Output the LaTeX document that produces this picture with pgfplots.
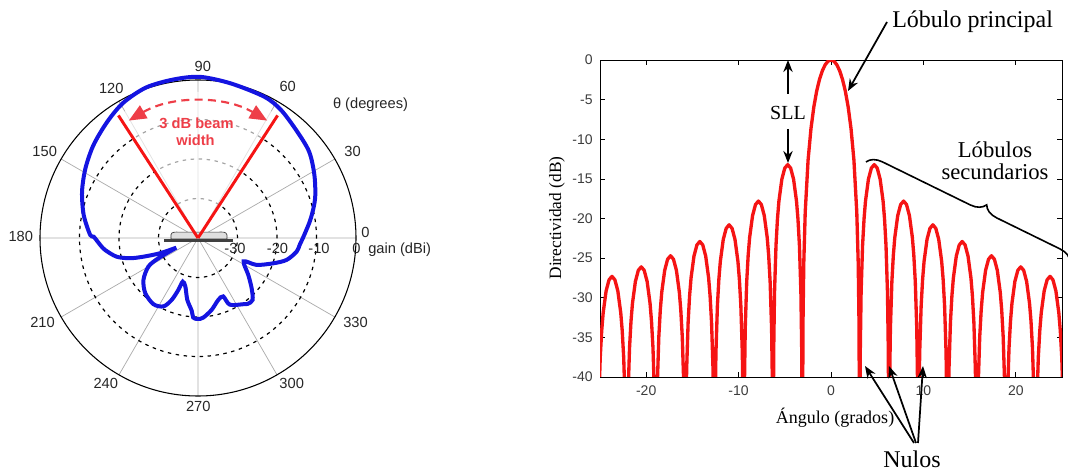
\documentclass[border=0pt]{standalone}
\usepackage{pgfplots}
\pgfplotsset{compat=1.18}
\usepackage{pgfplotstable}
\usepgfplotslibrary{polar}
\usetikzlibrary{arrows.meta,decorations.pathreplacing}
\usepackage{fontspec}
\setmainfont{Liberation Sans}
\newfontfamily\seriffont{Liberation Serif}
\definecolor{pblue}{RGB}{20,20,225}
\definecolor{pred}{RGB}{245,20,20}
\definecolor{bred}{RGB}{238,62,72}
\definecolor{tgray}{RGB}{60,60,60}

\pgfplotstableread{
a g
204 -34
201.9 -29.7
198.9 -25.4
196.6 -22.1
193.0 -18.9
187.4 -16.3
184.1 -15.2
179.3 -13.6
178.4 -12.7
168.7 -10.5
158.3 -8.4
148.3 -6.5
138.4 -4.6
128.1 -2.7
119.0 -0.9
109.1 0.3
98.9 0.6
89.3 0.8
77.9 0.0
64.7 -0.5
56.9 -1.4
46.8 -3.2
37.7 -4.4
28.4 -6.5
18.7 -8.7
9.9 -11.0
1.6 -13.1
-3.9 -14.2
-7.9 -14.8
-13.9 -16.9
-18.6 -19.9
-24.7 -23.7
-27.1 -27.0
-36.3 -24.2
-43.1 -21.4
-48.6 -19.1
-52.9 -19.1
-55.7 -19.7
-64.5 -21.3
-66.7 -23.9
-71.9 -23.5
-79.2 -21.5
-86.2 -19.8
-90 -19.5
-93.4 -19.8
-94.9 -21.5
-99.8 -24.1
-104.6 -27.3
-109.3 -28.3
-110.7 -26.0
-113.0 -23.0
-116.8 -20.6
-124.0 -19.8
-133.8 -20.7
-142.5 -22.6
-150.0 -25.5
-152.9 -28.7
-156 -34
}\polardata

\pgfplotstableread{
x y
0 0
0.31 -0.14
0.62 -0.58
0.93 -1.33
1.24 -2.42
1.55 -3.92
1.86 -5.94
2.17 -8.69
2.48 -12.62
2.79 -19.2
2.945 -25.6
3.038 -33.8
3.1 -60
3.163 -37.2
3.259 -29.3
3.417 -23.4
3.576 -20.06
3.734 -17.8
4.051 -15.04
4.368 -13.64
4.685 -13.2
5.002 -13.64
5.319 -15.04
5.636 -17.8
5.795 -20.06
5.953 -23.4
6.112 -29.3
6.207 -37.2
6.27 -60
6.333 -41.8
6.429 -33.9
6.587 -28.0
6.746 -24.66
6.904 -22.4
7.221 -19.64
7.538 -18.24
7.855 -17.8
8.172 -18.24
8.489 -19.64
8.806 -22.4
8.965 -24.66
9.123 -28.0
9.282 -33.9
9.377 -41.8
9.44 -60
9.503 -44.8
9.599 -36.9
9.757 -31.0
9.916 -27.66
10.074 -25.4
10.391 -22.64
10.708 -21.24
11.025 -20.8
11.342 -21.24
11.659 -22.64
11.976 -25.4
12.135 -27.66
12.293 -31.0
12.452 -36.9
12.547 -44.8
12.61 -60
12.673 -46.9
12.769 -39.0
12.927 -33.1
13.086 -29.76
13.244 -27.5
13.561 -24.74
13.878 -23.34
14.195 -22.9
14.512 -23.34
14.829 -24.74
15.146 -27.5
15.305 -29.76
15.463 -33.1
15.622 -39.0
15.717 -46.9
15.78 -60
15.843 -48.7
15.939 -40.8
16.097 -34.9
16.256 -31.56
16.414 -29.3
16.731 -26.54
17.048 -25.14
17.365 -24.7
17.682 -25.14
17.999 -26.54
18.316 -29.3
18.475 -31.56
18.633 -34.9
18.792 -40.8
18.887 -48.7
18.95 -60
19.013 -50.1
19.109 -42.2
19.267 -36.3
19.426 -32.96
19.584 -30.7
19.901 -27.94
20.218 -26.54
20.535 -26.1
20.852 -26.54
21.169 -27.94
21.486 -30.7
21.645 -32.96
21.803 -36.3
21.962 -42.2
22.057 -50.1
22.12 -60
22.183 -51.3
22.279 -43.4
22.437 -37.5
22.596 -34.16
22.754 -31.9
23.071 -29.14
23.388 -27.74
23.705 -27.3
24.022 -27.74
24.339 -29.14
24.656 -31.9
24.815 -34.16
24.973 -37.5
25.132 -43.4
25.227 -51.3
25.29 -60
}\arraydata

\newcommand{\fa}{\fontsize{11}{13}\selectfont}

\begin{document}
\begin{tikzpicture}
\useasboundingbox (0,0) rectangle (801pt,353.25pt);

% ---------------- polar chart ----------------
\begin{polaraxis}[
  at={(148.5pt,174.75pt)}, anchor=center,
  width=237pt, height=237pt, scale only axis,
  xmin=0, xmax=360, ymin=0, ymax=40,
  xtick={0,30,...,330}, ytick={10,20,30},
  xticklabel=\empty, yticklabel=\empty,
  major tick length=0pt,
  xmajorgrids, ymajorgrids,
  x grid style={gray!65, line width=0.55pt},
  y grid style={black, line width=0.9pt, dash pattern=on 2.6pt off 3.4pt},
  separate axis lines,
  x axis line style={black, line width=0.8pt},
  y axis line style={draw=none},
  clip=false]
\fill[white, opacity=0.65] (axis cs:0,0) -- (axis cs:57,37) arc[start angle=57, end angle=123, radius=109.6pt] -- cycle;
\coordinate (O) at (axis cs:0,0);
\draw[fill=gray!25, draw=gray!45!black, line width=0.5pt]
  ([shift={(-20.3pt,-0.8pt)}]O) -- ([shift={(-20.3pt,2.4pt)}]O)
  to[out=80,in=180] ([shift={(-14pt,4.4pt)}]O) -- ([shift={(15pt,4.4pt)}]O)
  to[out=0,in=100] ([shift={(21.7pt,2.4pt)}]O) -- ([shift={(21.7pt,-0.8pt)}]O) -- cycle;
\draw[line width=2.3pt, black!75] ([shift={(-25.5pt,-1.8pt)}]O) -- ([shift={(26.2pt,-1.8pt)}]O);
\addplot[pblue, line width=3pt, smooth, tension=0.5] table[x=a, y expr=\thisrow{g}+40] {\polardata};
\addplot[pred, line width=2.2pt] coordinates {(0,0) (57,37)};
\addplot[pred, line width=2.2pt] coordinates {(0,0) (123,37)};
\draw[bred, line width=1.6pt, dash pattern=on 6pt off 4pt,
  {Triangle[length=13pt,width=11pt]}-{Triangle[length=13pt,width=11pt]}]
  (axis cs:120.5,34.5) arc[start angle=120.5, end angle=59.5, radius=102.2pt];
\end{polaraxis}

% ---------------- array factor ----------------
\begin{axis}[
  at={(450pt,70.5pt)}, anchor=south west,
  width=346.5pt, height=237.75pt, scale only axis,
  xmin=-25, xmax=25, ymin=-40, ymax=0,
  xtick={-20,-10,0,10,20}, xticklabels={-20,-10,0,10,20},
  ytick={-40,-35,-30,-25,-20,-15,-10,-5,0},
  yticklabels={-40,-35,-30,-25,-20,-15,-10,-5,0},
  tick align=inside, major tick length=3.5pt,
  tick style={black, line width=0.5pt},
  ticklabel style={font=\fontsize{10.5}{12}\selectfont, text=tgray},
  xticklabel style={yshift=-3pt}, yticklabel style={xshift=-2pt},
  axis line style={black, line width=0.6pt}]
\addplot[pred, line width=2.5pt, line join=round] table[x=x, y=y] {\arraydata};
\addplot[pred, line width=2.5pt, line join=round] table[x expr=-\thisrow{x}, y=y] {\arraydata};
\end{axis}

% ---------------- annotations (pixel coordinates) ----------------
\begin{scope}[shift={(0pt,353.25pt)}, x=0.75pt, y=-0.75pt]
\begin{scope}[text=black!85, font=\fa]
\node at (365.5,232.5) {0};
\node at (352.5,151.7) {30};
\node at (287.7,86.7) {60};
\node at (202.8,66) {90};
\node at (111.3,88.3) {120};
\node at (44.7,151.7) {150};
\node at (20.8,236.7) {180};
\node at (42.5,322.7) {210};
\node at (105.8,383.3) {240};
\node at (198.3,406.7) {270};
\node at (291.7,383.3) {300};
\node at (355.5,322.7) {330};
\node at (235,248) {-30};
\node at (277.5,248) {-20};
\node at (319,248) {-10};
\node at (356.5,248) {0};
\node[anchor=west, inner sep=0pt] at (368,250) {gain (dBi)};
\node at (370.5,105) {θ (degrees)};
\end{scope}
\node[text=bred, font=\bfseries\fa] at (196.5,123.5) {3 dB beam};
\node[text=bred, font=\bfseries\fa] at (195.5,140) {width};

\node[anchor=west, inner sep=0pt, font=\seriffont\fontsize{18}{20}\selectfont] at (892,22) {Lóbulo principal};
\draw[line width=1.3pt, -{Stealth[length=9pt,width=7pt]}] (887,22) -- (848,91);
\node[font=\seriffont\fontsize{15}{18}\selectfont] at (788,113) {SLL};
\draw[line width=1.3pt, -{Stealth[length=9pt,width=7pt]}] (788,94) -- (788,60);
\draw[line width=1.3pt, -{Stealth[length=9pt,width=7pt]}] (788,129) -- (788,163);
\node[align=center, font=\seriffont\fontsize{17}{16.5}\selectfont] at (995,161) {Lóbulos\\secundarios};
\draw[decorate, decoration={brace, amplitude=11pt, aspect=0.56}, line width=1.2pt] (866,162) -- (1070,262);
\node[font=\seriffont\fontsize{18}{20}\selectfont] at (912,459) {Nulos};
\draw[line width=1.3pt, -{Stealth[length=9pt,width=7pt]}] (914,443) -- (865,366);
\draw[line width=1.3pt, -{Stealth[length=9pt,width=7pt]}] (916,443) -- (889,366);
\draw[line width=1.3pt, -{Stealth[length=9pt,width=7pt]}] (918,443) -- (923,366);
\node[font=\seriffont\fontsize{13.5}{15}\selectfont] at (835,418) {Ángulo (grados)};
\node[rotate=90, font=\seriffont\fontsize{13}{15}\selectfont] at (557,218) {Directividad (dB)};
\end{scope}
\end{tikzpicture}
\end{document}
